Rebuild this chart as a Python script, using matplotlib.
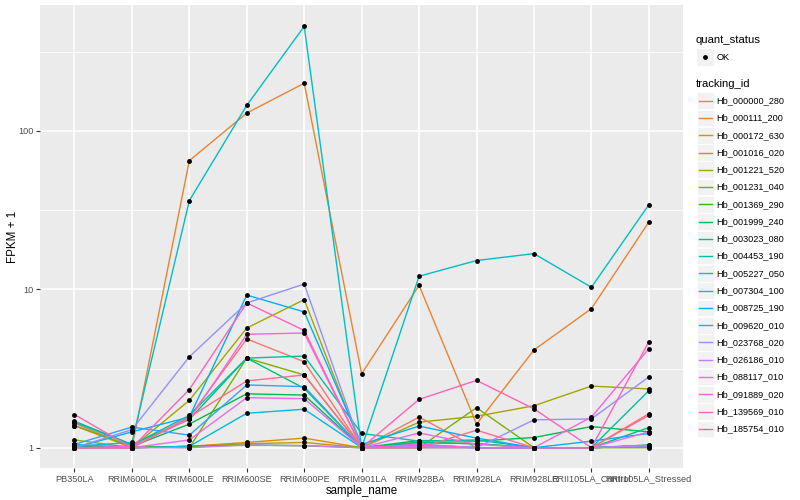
import matplotlib
matplotlib.use("Agg")
import matplotlib.pyplot as plt
from matplotlib.patches import Rectangle
import numpy as np

plt.rcParams['font.family'] = ['Liberation Sans', 'DejaVu Sans']

samples = ["PB350LA", "RRIM600LA", "RRIM600LE", "RRIM600SE", "RRIM600PE",
           "RRIM901LA", "RRIM928BA", "RRIM928LA", "RRIM928LE",
           "RRII105LA_Control", "RRII105LA_Stressed"]

tracking_ids = ["Hb_000000_280", "Hb_000111_200", "Hb_000172_630", "Hb_001016_020",
                "Hb_001221_520", "Hb_001231_040", "Hb_001369_290", "Hb_001999_240",
                "Hb_003023_080", "Hb_004453_190", "Hb_005227_050", "Hb_007304_100",
                "Hb_008725_190", "Hb_009620_010", "Hb_023768_020", "Hb_026186_010",
                "Hb_088117_010", "Hb_091889_020", "Hb_139569_010", "Hb_185754_010"]

colors = ["#F8766D", "#EA8331", "#D89000", "#C09B00", "#A3A500", "#7CAE00",
          "#39B600", "#00BB4E", "#00BF7D", "#00C1A3", "#00BFC4", "#00BAE0",
          "#00B0F6", "#35A2FF", "#9590FF", "#C77CFF", "#E76BF3", "#FA62DB",
          "#FF62BC", "#FF6C91"]

fpkm_hb_000000_280 = [1.43, 1.00, 1.56, 4.86, 3.49, 1.00, 1.56, 1.00, 1.00, 1.00, 1.64]
fpkm_hb_000111_200 = [1.38, 1.00, 64.9, 129.7, 200.0, 2.93, 10.6, 1.41, 4.14, 7.55, 26.6]
fpkm_hb_000172_630 = [1.00, 1.00, 1.02, 1.08, 1.15, 1.00, 1.03, 1.00, 1.00, 1.00, 1.03]
fpkm_hb_001016_020 = [1.02, 1.00, 1.02, 1.06, 1.08, 1.00, 1.00, 1.00, 1.00, 1.00, 1.04]
fpkm_hb_001221_520 = [1.12, 1.00, 1.99, 5.70, 8.60, 1.00, 1.45, 1.58, 1.84, 2.45, 2.35]
fpkm_hb_001231_040 = [1.38, 1.02, 1.00, 3.68, 2.88, 1.00, 1.00, 1.79, 1.00, 1.00, 1.00]
fpkm_hb_001369_290 = [1.00, 1.00, 1.02, 1.04, 1.03, 1.00, 1.08, 1.06, 1.00, 1.00, 1.03]
fpkm_hb_001999_240 = [1.02, 1.02, 1.41, 2.19, 2.15, 1.00, 1.11, 1.10, 1.16, 1.36, 1.26]
fpkm_hb_003023_080 = [1.47, 1.05, 1.51, 3.68, 2.37, 1.00, 1.08, 1.06, 1.00, 1.00, 1.34]
fpkm_hb_004453_190 = [1.45, 1.04, 1.60, 3.68, 3.79, 1.23, 1.10, 1.12, 1.00, 1.00, 2.29]
fpkm_hb_005227_050 = [1.02, 1.08, 36.3, 145.0, 457.0, 1.00, 12.1, 15.2, 16.8, 10.3, 34.2]
fpkm_hb_007304_100 = [1.05, 1.00, 1.02, 1.65, 1.75, 1.00, 1.04, 1.00, 1.00, 1.00, 1.03]
fpkm_hb_008725_190 = [1.00, 1.26, 1.56, 9.20, 7.20, 1.05, 1.37, 1.15, 1.00, 1.10, 1.23]
fpkm_hb_009620_010 = [1.05, 1.35, 1.20, 2.49, 2.43, 1.00, 1.05, 1.00, 1.00, 1.00, 1.04]
fpkm_hb_023768_020 = [1.00, 1.30, 3.75, 8.20, 10.8, 1.00, 1.00, 1.00, 1.50, 1.52, 2.80]
fpkm_hb_026186_010 = [1.00, 1.00, 1.00, 1.04, 1.03, 1.00, 1.02, 1.00, 1.00, 1.00, 1.03]
fpkm_hb_088117_010 = [1.00, 1.00, 1.12, 2.07, 2.04, 1.00, 1.24, 1.05, 1.00, 1.00, 1.26]
fpkm_hb_091889_020 = [1.00, 1.02, 1.51, 5.20, 5.30, 1.00, 1.05, 1.00, 1.00, 1.56, 4.22]
fpkm_hb_139569_010 = [1.62, 1.00, 2.33, 8.20, 5.50, 1.00, 2.02, 2.66, 1.76, 1.00, 4.67]
fpkm_hb_185754_010 = [1.00, 1.00, 1.56, 2.64, 2.88, 1.00, 1.00, 1.29, 1.00, 1.00, 1.60]

series = [fpkm_hb_000000_280, fpkm_hb_000111_200, fpkm_hb_000172_630, fpkm_hb_001016_020,
          fpkm_hb_001221_520, fpkm_hb_001231_040, fpkm_hb_001369_290, fpkm_hb_001999_240,
          fpkm_hb_003023_080, fpkm_hb_004453_190, fpkm_hb_005227_050, fpkm_hb_007304_100,
          fpkm_hb_008725_190, fpkm_hb_009620_010, fpkm_hb_023768_020, fpkm_hb_026186_010,
          fpkm_hb_088117_010, fpkm_hb_091889_020, fpkm_hb_139569_010, fpkm_hb_185754_010]

W, H = 800, 500
fig = plt.figure(figsize=(W / 100, H / 100), dpi=100)
fig.patch.set_facecolor("white")

# panel in pixels
pl, pr, pt, pb = 40, 683.3, 5, 468
ax = fig.add_axes([pl / W, (H - pb) / H, (pr - pl) / W, (pb - pt) / H])
ax.set_facecolor("#EBEBEB")

x = np.arange(len(samples))
for vals, c in zip(series, colors):
    ax.plot(x, vals, color=c, lw=1.0, zorder=3, solid_capstyle="butt")
for vals in series:
    ax.plot(x, vals, ls="none", marker="o", ms=3.5, mfc="black", mec="black", mew=0, zorder=4)

ax.set_yscale("log")
ax.set_ylim(10 ** -0.128, 10 ** 2.795)
ax.set_xlim(-0.6, len(samples) - 1 + 0.6)

ax.set_xticks(x)
ax.set_xticklabels(samples)
ax.set_yticks([1, 10, 100])
ax.set_yticklabels(["1", "10", "100"])
ax.yaxis.set_minor_locator(matplotlib.ticker.FixedLocator([10 ** 0.5, 10 ** 1.5, 10 ** 2.5]))
ax.yaxis.set_minor_formatter(matplotlib.ticker.NullFormatter())
ax.tick_params(axis="both", which="major", length=2.7, width=0.8, color="#333333",
               labelsize=6.6, labelcolor="#4D4D4D", pad=2)
ax.tick_params(axis="y", which="minor", length=0)
ax.grid(True, which="major", color="white", lw=1.1, zorder=0)
ax.grid(True, which="minor", axis="y", color="white", lw=0.55, zorder=0)
ax.set_axisbelow(True)
for s in ax.spines.values():
    s.set_visible(False)

ax.set_xlabel("sample_name", fontsize=8.3, color="black", labelpad=1)
ax.set_ylabel("FPKM + 1", fontsize=8.3, color="black")
ax.yaxis.set_label_coords((19 - pl) / (pr - pl), 0.5)

# legend drawn in pixel coordinates
lg = fig.add_axes([0, 0, 1, 1], facecolor="none")
lg.set_xlim(0, W)
lg.set_ylim(H, 0)
lg.axis("off")

lg.text(696, 40, "quant_status", fontsize=8.1, va="center", ha="left", color="black")
lg.add_patch(Rectangle((697, 49), 16.5, 16.5, facecolor="#F2F2F2", edgecolor="none"))
lg.plot([705.2], [57.3], marker="o", ms=3.5, mfc="black", mec="black", mew=0)
lg.text(716.5, 57.3, "OK", fontsize=6.6, va="center", ha="left", color="black")

lg.text(696, 84.3, "tracking_id", fontsize=8.1, va="center", ha="left", color="black")
y0, dy = 100.7, 17.27
for i, (tid, c) in enumerate(zip(tracking_ids, colors)):
    yc = y0 + i * dy
    lg.add_patch(Rectangle((697, yc - 8.3), 16.5, 16.6, facecolor="#F2F2F2", edgecolor="white", lw=0.5))
    lg.plot([698.5, 711.5], [yc, yc], color=c, lw=1.0)
    lg.text(716.5, yc, tid, fontsize=6.6, va="center", ha="left", color="black")

fig.savefig("out.png", dpi=100)
